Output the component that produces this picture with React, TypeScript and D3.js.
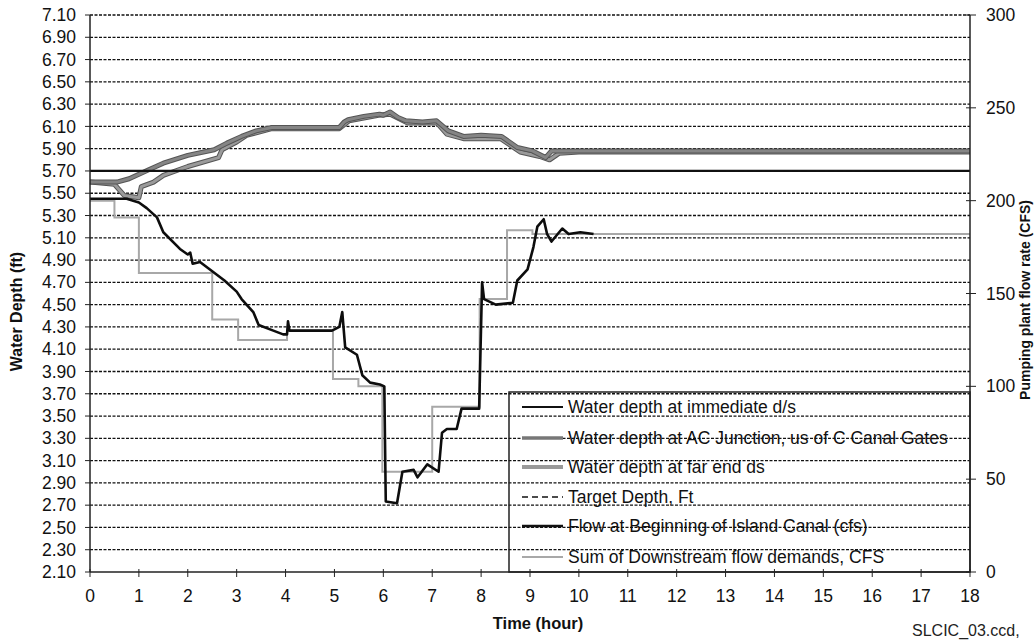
import React, { useRef, useEffect } from 'react';
import * as d3 from 'd3';

// hours vs. flow (cfs, right axis)
const flowHours = [0, 0.75, 1.0, 1.16, 1.37, 1.5, 1.84, 2.0, 2.05, 2.1, 2.25, 2.5, 2.75, 3.0, 3.1, 3.34, 3.45, 3.75, 3.95, 4.03, 4.05, 4.08, 4.5, 4.95, 5.1, 5.16, 5.22, 5.46, 5.57, 5.73, 5.93, 6.02, 6.05, 6.28, 6.39, 6.62, 6.7, 6.9, 7.13, 7.2, 7.3, 7.5, 7.6, 7.96, 8.02, 8.06, 8.3, 8.65, 8.74, 8.95, 9.07, 9.15, 9.28, 9.35, 9.44, 9.66, 9.79, 10.03, 10.3];
const flowIsland = [201, 201, 199, 196, 191, 183, 174, 171, 172, 166, 167, 162, 157, 151, 147, 140, 133, 130, 128, 128, 135, 130, 130, 130, 132, 140, 121, 117, 106, 102, 101, 100, 38, 37, 54, 55, 51, 58, 54, 75, 77, 77, 88, 88, 156, 147, 144, 145, 157, 163, 175, 186, 190, 182, 178, 185, 182, 183, 182];

// step series: demand changes at these hours
const demandHours = [0, 0.5, 1.0, 2.5, 3.03, 4.03, 4.97, 5.49, 5.98, 7.0, 7.97, 8.53, 9.05, 18];
const demandFlow = [200, 191, 161, 136, 125, 130, 104, 100, 54, 89, 147, 184, 182, 182];

const acHours = [0, 0.55, 0.8, 1.0, 1.2, 1.5, 2.0, 2.54, 2.8, 3.1, 3.4, 3.72, 4.5, 5.1, 5.2, 5.28, 5.6, 5.92, 6.0, 6.14, 6.3, 6.46, 6.8, 7.09, 7.33, 7.64, 8.0, 8.42, 8.74, 9.05, 9.32, 9.44, 10, 18];
const acDepth = [5.60, 5.60, 5.63, 5.67, 5.71, 5.77, 5.84, 5.89, 5.95, 6.01, 6.06, 6.09, 6.09, 6.09, 6.14, 6.16, 6.19, 6.21, 6.20, 6.23, 6.18, 6.15, 6.14, 6.15, 6.06, 6.01, 6.02, 6.01, 5.91, 5.88, 5.82, 5.88, 5.88, 5.88];

const farHours = [0, 0.5, 0.7, 1.0, 1.05, 1.3, 1.5, 2.0, 2.63, 2.7, 3.0, 3.2, 3.72, 5.1, 5.3, 5.9, 6.14, 6.5, 7.1, 7.3, 7.64, 8.4, 8.8, 9.2, 9.4, 9.6, 10, 18];
const farDepth = [5.60, 5.58, 5.48, 5.46, 5.56, 5.60, 5.66, 5.74, 5.82, 5.89, 5.96, 6.02, 6.08, 6.08, 6.15, 6.20, 6.21, 6.13, 6.13, 6.03, 5.99, 5.99, 5.87, 5.83, 5.80, 5.86, 5.87, 5.87];

const immHours = [0, 18];
const immDepth = [5.70, 5.70];
const targetDepth = [5.70, 5.70];

const depthTicks = d3.range(2.1, 7.1001, 0.2);
const flowTicks = [0, 50, 100, 150, 200, 250, 300];
const hourTicks = d3.range(0, 19);

const legendLabels = [
  'Water depth at immediate d/s',
  'Water depth at AC Junction, us of C Canal Gates',
  'Water depth at far end ds',
  'Target Depth, Ft',
  'Flow at Beginning of Island Canal (cfs)',
  'Sum of Downstream flow demands, CFS',
];

const FONT = '"Liberation Sans", Arial, sans-serif';

const App = () => {
  const ref = useRef<SVGSVGElement>(null);

  useEffect(() => {
    const width = 1036, height = 640;
    const margin = { top: 15, right: 66, bottom: 68, left: 90 };
    const svg = d3.select(ref.current).attr('width', width).attr('height', height);
    svg.selectAll('*').remove();

    const x = d3.scaleLinear().domain([0, 18]).range([margin.left, width - margin.right]);
    const yL = d3.scaleLinear().domain([2.1, 7.1]).range([height - margin.bottom, margin.top]);
    const yR = d3.scaleLinear().domain([0, 300]).range([height - margin.bottom, margin.top]);
    const x0 = x(0), x1 = x(18), yb = yL(2.1), yt = yL(7.1);

    svg.append('rect').attr('width', width).attr('height', height).attr('fill', '#fff');

    // dashed gridlines
    svg.append('g')
      .selectAll('line')
      .data(depthTicks.slice(1))
      .join('line')
        .attr('x1', x0).attr('x2', x1)
        .attr('y1', d => yL(d)).attr('y2', d => yL(d))
        .attr('stroke', '#111').attr('stroke-width', 1.3)
        .attr('stroke-dasharray', '3,1.5');

    const lineDepth = d3.line<[number, number]>().x(d => x(d[0])).y(d => yL(d[1]));
    const lineFlow = d3.line<[number, number]>().x(d => x(d[0])).y(d => yR(d[1]));

    const zip = (a: number[], b: number[]) => a.map((v, i) => [v, b[i]] as [number, number]);

    // demand steps
    svg.append('path')
      .attr('d', lineFlow.curve(d3.curveStepAfter)(zip(demandHours, demandFlow)))
      .attr('fill', 'none').attr('stroke', '#a8a8a8').attr('stroke-width', 2);
    lineFlow.curve(d3.curveLinear);

    // water depths (grey wide)
    [[farHours, farDepth, '#9a9a9a'], [acHours, acDepth, '#858585']].forEach(([h, v, c]) => {
      svg.append('path')
        .attr('d', lineDepth(zip(h as number[], v as number[])))
        .attr('fill', 'none').attr('stroke', '#555').attr('stroke-width', 5)
        .attr('stroke-linejoin', 'round');
      svg.append('path')
        .attr('d', lineDepth(zip(h as number[], v as number[])))
        .attr('fill', 'none').attr('stroke', c as string).attr('stroke-width', 3)
        .attr('stroke-linejoin', 'round');
    });

    svg.append('path')
      .attr('d', lineDepth(zip(immHours, immDepth)))
      .attr('fill', 'none').attr('stroke', '#111').attr('stroke-width', 2.2);
    svg.append('path')
      .attr('d', lineDepth(zip(immHours, targetDepth)))
      .attr('fill', 'none').attr('stroke', '#111').attr('stroke-width', 1.5)
      .attr('stroke-dasharray', '6,3');

    // flow line
    svg.append('path')
      .attr('d', lineFlow(zip(flowHours, flowIsland)))
      .attr('fill', 'none').attr('stroke', '#0d0d0d').attr('stroke-width', 2.6)
      .attr('stroke-linejoin', 'round');

    // axes
    const axisColor = '#222';
    svg.append('line').attr('x1', x0).attr('x2', x0).attr('y1', yt).attr('y2', yb).attr('stroke', axisColor).attr('stroke-width', 1.5);
    svg.append('line').attr('x1', x1).attr('x2', x1).attr('y1', yt).attr('y2', yb).attr('stroke', axisColor).attr('stroke-width', 1.5);
    svg.append('line').attr('x1', x0).attr('x2', x1).attr('y1', yb).attr('y2', yb).attr('stroke', axisColor).attr('stroke-width', 1.5);

    const left = svg.append('g');
    left.selectAll('line').data(depthTicks).join('line')
      .attr('x1', x0 - 5).attr('x2', x0).attr('y1', d => yL(d)).attr('y2', d => yL(d))
      .attr('stroke', axisColor);
    left.selectAll('text').data(depthTicks).join('text')
      .attr('x', x0 - 14).attr('y', d => yL(d)).attr('dy', '0.35em')
      .attr('text-anchor', 'end').attr('font-size', 17.5).attr('font-family', FONT).attr('fill', '#111')
      .text(d => d.toFixed(2));

    const right = svg.append('g');
    right.selectAll('line').data(flowTicks).join('line')
      .attr('x1', x1 - 4).attr('x2', x1 + 6).attr('y1', d => yR(d)).attr('y2', d => yR(d))
      .attr('stroke', axisColor);
    right.selectAll('text').data(flowTicks).join('text')
      .attr('x', x1 + 16).attr('y', d => yR(d)).attr('dy', '0.35em')
      .attr('font-size', 17.5).attr('font-family', FONT).attr('fill', '#111')
      .text(d => d);

    const bottom = svg.append('g');
    bottom.selectAll('line').data(hourTicks).join('line')
      .attr('x1', d => x(d)).attr('x2', d => x(d)).attr('y1', yb - 3).attr('y2', yb + 5)
      .attr('stroke', axisColor);
    bottom.selectAll('text').data(hourTicks).join('text')
      .attr('x', d => x(d)).attr('y', yb + 30)
      .attr('text-anchor', 'middle').attr('font-size', 17.5).attr('font-family', FONT).attr('fill', '#111')
      .text(d => d);

    // titles
    svg.append('text').attr('transform', `translate(22,${(yt + yb) / 2 + 18}) rotate(-90)`)
      .attr('text-anchor', 'middle').attr('font-size', 16).attr('font-weight', 'bold')
      .attr('font-family', FONT).attr('fill', '#111').text('Water Depth (ft)');
    svg.append('text').attr('transform', `translate(1030,300) rotate(-90)`)
      .attr('text-anchor', 'middle').attr('font-size', 14).attr('font-weight', 'bold')
      .attr('font-family', FONT).attr('fill', '#111').text('Pumping plant flow rate (CFS)');
    svg.append('text').attr('x', 538).attr('y', 629)
      .attr('text-anchor', 'middle').attr('font-size', 16.5).attr('font-weight', 'bold')
      .attr('font-family', FONT).attr('fill', '#111').text('Time (hour)');
    svg.append('text').attr('x', 912).attr('y', 636)
      .attr('font-size', 16).attr('font-family', FONT).attr('fill', '#222').text('SLCIC_03.ccd,');

    // legend (transparent box, gridlines show through)
    const lg = svg.append('g');
    lg.append('rect').attr('x', 509).attr('y', 392).attr('width', x1 - 509).attr('height', yb - 392)
      .attr('fill', 'none').attr('stroke', '#222').attr('stroke-width', 1.5);
    const sampleStyles = [
      { stroke: '#111', w: 2.2, dash: null },
      { stroke: '#777', w: 3.5, dash: null },
      { stroke: '#999', w: 4, dash: null },
      { stroke: '#111', w: 1.5, dash: '6,4' },
      { stroke: '#111', w: 2.4, dash: null },
      { stroke: '#a8a8a8', w: 2, dash: null },
    ];
    const rowY = [407, 438, 467, 497, 526, 557];
    legendLabels.forEach((label, i) => {
      const s = sampleStyles[i];
      const l = lg.append('line').attr('x1', 522).attr('x2', 563).attr('y1', rowY[i]).attr('y2', rowY[i])
        .attr('stroke', s.stroke).attr('stroke-width', s.w);
      if (s.dash) l.attr('stroke-dasharray', s.dash);
      lg.append('text').attr('x', 568).attr('y', rowY[i]).attr('dy', '0.35em')
        .attr('font-size', 17.5).attr('font-family', FONT).attr('fill', '#111').text(label);
    });
  }, []);

  return (
    <svg ref={ref} style={{ position: 'absolute', left: 0, top: 0, display: 'block' }}></svg>
  );
};

export default App;
